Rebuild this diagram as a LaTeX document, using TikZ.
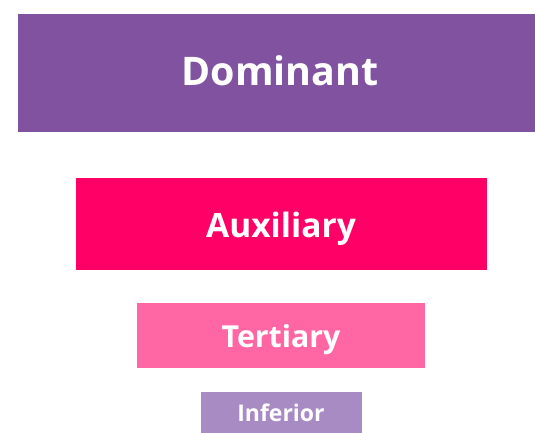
\documentclass[tikz,border=0pt]{standalone}
\usepackage{fontspec}
\setmainfont{Open Sans}
\definecolor{dom}{HTML}{8052A0}
\definecolor{aux}{HTML}{FF0066}
\definecolor{ter}{HTML}{FF66A3}
\definecolor{inf}{HTML}{A98BC4}
\tikzset{
  lvl/.style={text=white, font=\bfseries, inner sep=0pt, anchor=base},
}
\begin{document}
\begin{tikzpicture}[x=1pt,y=-1pt]
\useasboundingbox (0,0) rectangle (535,433);
\fill[dom] (18,14) rectangle (535,132);
\fill[aux] (76,178) rectangle (487,270);
\fill[ter] (137,303) rectangle (425,368);
\fill[inf] (201,392) rectangle (362,433);
\node[lvl, font=\bfseries\fontsize{39.4}{42}\selectfont] (d) at (280,86) {Dominant};
\node[lvl, font=\bfseries\fontsize{33.5}{36}\selectfont] (a) at (281,237) {Auxiliary};
\node[lvl, font=\bfseries\fontsize{30.3}{33}\selectfont] (t) at (281,347.5) {Tertiary};
\node[lvl, font=\bfseries\fontsize{23}{25}\selectfont] (i) at (281,421) {Inferior};
\end{tikzpicture}
\end{document}
